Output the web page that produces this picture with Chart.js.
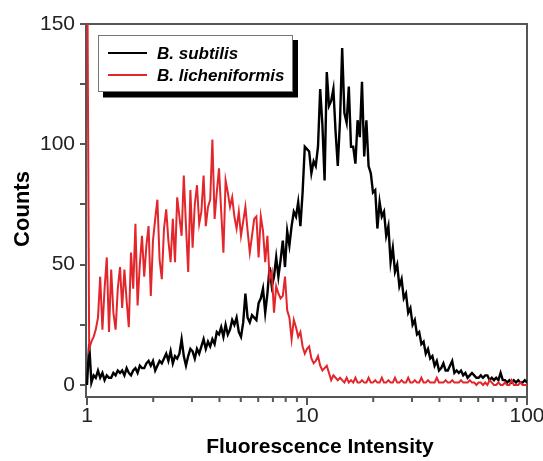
<!DOCTYPE html>
<html>
<head>
<meta charset="utf-8">
<script src="https://cdn.jsdelivr.net/npm/chart.js@4/dist/chart.umd.min.js"></script>
<style>
  html, body { margin: 0; padding: 0; background: #fff; overflow: hidden; }
  #wrap { position: absolute; left: 0; top: 0; width: 560px; height: 461px; }
</style>
</head>
<body>
<div id="wrap"><canvas id="c"></canvas></div>
<script>
// Fluorescence intensity channels (log-spaced)
const intensity = [
1, 1.023, 1.047, 1.072, 1.096, 1.122, 1.148, 1.175, 1.202, 1.230,
1.259, 1.288, 1.318, 1.349, 1.380, 1.413, 1.445, 1.479, 1.514, 1.549,
1.585, 1.622, 1.660, 1.698, 1.738, 1.778, 1.820, 1.862, 1.905, 1.950,
1.995, 2.042, 2.089, 2.138, 2.188, 2.239, 2.291, 2.344, 2.399, 2.455,
2.512, 2.570, 2.630, 2.692, 2.754, 2.818, 2.884, 2.951, 3.020, 3.090,
3.162, 3.236, 3.311, 3.388, 3.467, 3.548, 3.631, 3.715, 3.802, 3.890,
3.981, 4.074, 4.169, 4.266, 4.365, 4.467, 4.571, 4.677, 4.786, 4.898,
5.012, 5.129, 5.248, 5.370, 5.495, 5.623, 5.754, 5.888, 6.026, 6.166,
6.310, 6.457, 6.607, 6.761, 6.918, 7.079, 7.244, 7.413, 7.586, 7.762,
7.943, 8.128, 8.318, 8.511, 8.710, 8.913, 9.120, 9.333, 9.550, 9.772,
10.00, 10.23, 10.47, 10.72, 10.96, 11.22, 11.48, 11.75, 12.02, 12.30,
12.59, 12.88, 13.18, 13.49, 13.80, 14.13, 14.45, 14.79, 15.14, 15.49,
15.85, 16.22, 16.60, 16.98, 17.38, 17.78, 18.20, 18.62, 19.05, 19.50,
19.95, 20.42, 20.89, 21.38, 21.88, 22.39, 22.91, 23.44, 23.99, 24.55,
25.12, 25.70, 26.30, 26.92, 27.54, 28.18, 28.84, 29.51, 30.20, 30.90,
31.62, 32.36, 33.11, 33.88, 34.67, 35.48, 36.31, 37.15, 38.02, 38.90,
39.81, 40.74, 41.69, 42.66, 43.65, 44.67, 45.71, 46.77, 47.86, 48.98,
50.12, 51.29, 52.48, 53.70, 54.95, 56.23, 57.54, 58.88, 60.26, 61.66,
63.10, 64.57, 66.07, 67.61, 69.18, 70.79, 72.44, 74.13, 75.86, 77.62,
79.43, 81.28, 83.18, 85.11, 87.10, 89.13, 91.20, 93.33, 95.50, 97.72,
100
];

// B. subtilis counts
const subtilis = [
0, 17, 1, 4, 3, 6,
3, 5, 2, 4, 3,
3, 5, 4, 6, 5,
6, 4, 7, 5, 4,
6, 7, 5, 8, 7,
7, 9, 10, 8, 10,
6, 8, 10, 9, 11,
13, 10, 14, 9, 12,
11, 13, 19, 12, 8,
12, 15, 14, 11, 15,
13, 16, 19, 15, 18,
16, 19, 17, 22, 21,
24, 20, 25, 21, 23,
27, 25, 28, 22, 20,
26, 38, 28, 26, 29,
28, 27, 34, 36, 40,
30, 38, 49, 41, 45,
53, 45, 52, 60, 49,
64, 58, 66, 72, 70,
76, 66, 80, 99, 98,
97, 88, 93, 91, 99,
123, 108, 85, 130, 116,
118, 123, 105, 91, 110,
140, 113, 109, 124, 99,
99, 92, 110, 103, 126,
95, 110, 91, 88, 80,
81, 65, 76, 70, 72,
62, 66, 51, 57, 47,
50, 41, 44, 36, 38,
30, 32, 25, 27, 21,
22, 17, 18, 13, 15,
11, 12, 8, 10, 6,
7, 9, 6, 6, 8,
10, 5, 6, 5, 6,
4, 5, 3, 4, 5,
4, 3, 3, 4, 3,
4, 4, 2, 3, 2,
3, 2, 5, 2, 2,
1, 2, 1, 2, 1,
2, 1, 1, 2, 1
];

// B. licheniformis counts
const licheniformis = [
200, 15, 18, 20, 23, 28,
45, 23, 40, 53, 22,
48, 30, 23, 40, 49,
32, 48, 35, 24, 55,
40, 67, 33, 50, 62,
45, 58, 66, 37, 60,
69, 77, 52, 44, 65,
73, 60, 51, 69, 51,
78, 70, 62, 87, 66,
47, 81, 57, 75, 83,
67, 72, 87, 66, 74,
77, 102, 69, 80, 90,
72, 55, 85, 80, 74,
78, 70, 65, 72, 62,
68, 74, 64, 55, 62,
69, 70, 53, 70, 64,
51, 62, 44, 47, 30,
41, 38, 36, 37, 45,
31, 28, 19, 27, 24,
20, 22, 16, 13, 15,
16, 11, 9, 10, 12,
8, 6, 7, 8, 5,
2, 4, 3, 2, 3,
2, 1, 3, 1, 2,
1, 3, 1, 1, 2,
1, 1, 3, 1, 1,
2, 1, 1, 3, 1,
1, 2, 1, 1, 3,
1, 1, 2, 1, 1,
3, 1, 1, 2, 1,
1, 3, 1, 1, 2,
1, 1, 1, 3, 1,
1, 1, 2, 1, 1,
2, 1, 1, 1, 2,
1, 1, 1, 2, 1,
1, 0, 1, 1, 0,
1, 0, 2, 1, 0,
0, 1, 0, 0, 1,
0, 0, 2, 0, 0,
0, 1, 0, 0, 0
];

const seriesNames = ['B. subtilis', 'B. licheniformis'];
const seriesColors = ['#000000', '#e3262b'];
const xTickValues = [1,2,3,4,5,6,7,8,9,10,20,30,40,50,60,70,80,90,100];
const xLabelValues = [1, 10, 100];
const yTickValues = [0, 25, 50, 75, 100, 125, 150];
const yLabelValues = [0, 50, 100, 150];
const xTitle = 'Fluorescence Intensity';
const yTitle = 'Counts';

const FONT = "'Liberation Sans', Arial, Helvetica, sans-serif";

const decorPlugin = {
  id: 'decor',
  beforeDatasetsDraw(chart) {
    const { ctx, chartArea: a } = chart;
    const xs = chart.scales.x;
    ctx.save();
    ctx.strokeStyle = '#555';
    ctx.lineWidth = 2;
    ctx.strokeRect(a.left - 1, a.top, a.right - a.left + 1, a.bottom - a.top);
    ctx.beginPath();
    xs.ticks.forEach(t => {
      const px = xs.getPixelForValue(t.value);
      const len = xLabelValues.includes(t.value) ? 8 : 5;
      ctx.moveTo(px, a.bottom);
      ctx.lineTo(px, a.bottom + len);
    });
    ctx.stroke();
    ctx.restore();
  },
  afterDatasetsDraw(chart) {
    const { ctx } = chart;
    ctx.save();
    // legend shadow
    ctx.fillStyle = '#000';
    ctx.fillRect(103, 40, 195, 57.5);
    // legend box
    ctx.fillStyle = '#fff';
    ctx.fillRect(98, 35, 195, 57);
    ctx.strokeStyle = '#777';
    ctx.lineWidth = 1;
    ctx.strokeRect(98.5, 35.5, 194, 56);
    const rows = [53, 75];
    ctx.font = "italic bold 17px " + FONT;
    ctx.textBaseline = 'middle';
    ctx.textAlign = 'left';
    chart.data.datasets.forEach((ds, i) => {
      ctx.strokeStyle = ds.borderColor;
      ctx.lineWidth = 2;
      ctx.beginPath();
      ctx.moveTo(108, rows[i]);
      ctx.lineTo(147, rows[i]);
      ctx.stroke();
      ctx.fillStyle = '#000';
      ctx.fillText(ds.label, 157, rows[i] + 1);
    });
    ctx.restore();
  },
  afterDraw(chart) {
    const { ctx } = chart;
    ctx.save();
    ctx.fillStyle = '#000';
    ctx.font = "bold 21px " + FONT;
    ctx.textAlign = 'center';
    ctx.textBaseline = 'alphabetic';
    ctx.fillText(xTitle, 320, 453);
    ctx.translate(29, 209);
    ctx.rotate(-Math.PI / 2);
    ctx.font = "bold 22px " + FONT;
    ctx.fillText(yTitle, 0, 0);
    ctx.restore();
  }
};

const ctx = document.getElementById('c').getContext('2d');
new Chart(ctx, {
  type: 'line',
  data: {
    datasets: [
      {
        label: seriesNames[0],
        data: intensity.map((x, i) => ({ x: x, y: subtilis[i] })),
        borderColor: seriesColors[0],
        borderWidth: 2.4,
        pointRadius: 0,
        tension: 0,
        order: 2,
        clip: { left: 3, top: 0, right: 0, bottom: 0 }
      },
      {
        label: seriesNames[1],
        data: intensity.map((x, i) => ({ x: x, y: licheniformis[i] })),
        borderColor: seriesColors[1],
        borderWidth: 2,
        pointRadius: 0,
        tension: 0,
        order: 1,
        clip: { left: 3, top: 0, right: 0, bottom: 0 }
      }
    ]
  },
  options: {
    responsive: true,
    maintainAspectRatio: false,
    devicePixelRatio: 1,
    animation: false,
    layout: { padding: { left: 0, top: 24, right: 33, bottom: 0 } },
    plugins: { legend: { display: false }, tooltip: { enabled: false } },
    scales: {
      x: {
        type: 'logarithmic',
        min: 1,
        max: 100,
        afterBuildTicks(scale) { scale.ticks = xTickValues.map(v => ({ value: v })); },
        afterFit(scale) { scale.height = 64; },
        grid: { display: false, drawTicks: false },
        border: { display: false },
        ticks: {
          autoSkip: false,
          maxRotation: 0,
          padding: 7,
          color: '#222',
          font: { family: FONT, size: 21 },
          callback: (v) => xLabelValues.includes(v) ? String(v) : ''
        }
      },
      y: {
        type: 'linear',
        min: -5,
        max: 150,
        afterBuildTicks(scale) { scale.ticks = yTickValues.map(v => ({ value: v })); },
        afterFit(scale) { scale.width = 87; },
        grid: { display: true, drawOnChartArea: false, drawTicks: true, tickLength: 7, color: '#555', lineWidth: 2 },
        border: { display: false },
        ticks: {
          padding: 5,
          color: '#222',
          font: { family: FONT, size: 21 },
          callback: (v) => yLabelValues.includes(v) ? String(v) : ''
        }
      }
    }
  },
  plugins: [decorPlugin]
});
</script>
</body>
</html>
